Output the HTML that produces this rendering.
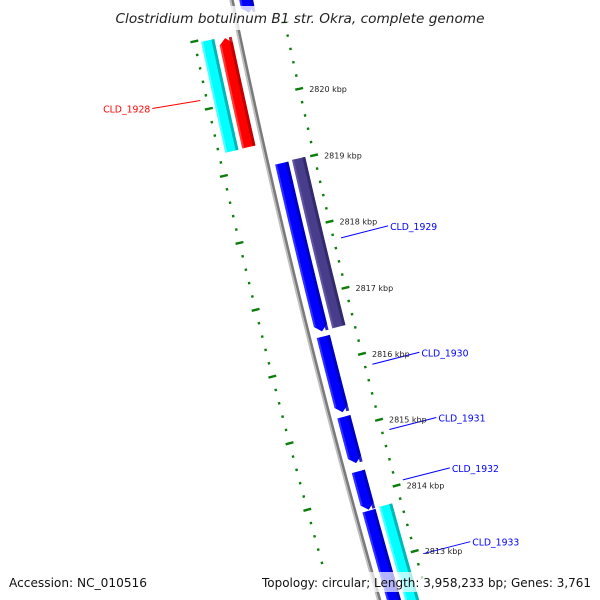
<!DOCTYPE html>
<html><head><meta charset="utf-8">
<style>
html,body{margin:0;padding:0;background:#fff;width:600px;height:600px;overflow:hidden;}
svg{display:block;}
</style></head>
<body>
<svg id="map" width="600" height="600" viewBox="0 0 600 600" xmlns="http://www.w3.org/2000/svg">
  <rect x="0" y="0" width="600" height="600" fill="#fff"/>
  <g id="ticks"></g>
  <g id="backbone"></g>
  <g id="genes"></g>
  <g id="labels"></g>
  <g id="ticklabels"></g>
  <rect x="112" y="6" width="377" height="24" fill="#fff" fill-opacity="0.8"/>
  <text x="300" y="23" text-anchor="middle" font-family="DejaVu Sans, sans-serif" font-style="italic" font-size="13" fill="#222" textLength="369" lengthAdjust="spacingAndGlyphs">Clostridium botulinum B1 str. Okra, complete genome</text>
  <rect x="5" y="572" width="590" height="20" fill="#fff" fill-opacity="0.7"/>
  <text x="9" y="587" font-family="DejaVu Sans, sans-serif" font-size="12.5" fill="#111" textLength="138" lengthAdjust="spacingAndGlyphs">Accession: NC_010516</text>
  <text x="591" y="587" text-anchor="end" font-family="DejaVu Sans, sans-serif" font-size="12.5" fill="#111" textLength="329" lengthAdjust="spacingAndGlyphs">Topology: circular; Length: 3,958,233 bp; Genes: 3,761</text>
</svg>
<script>
// ---- data ----
const geneNames  = ["", "CLD_1928", "", "CLD_1929", "", "CLD_1930", "CLD_1931", "CLD_1932", "CLD_1933", ""];
const geneStart  = [2821.244, 2819.33, 2819.323, 2816.463, 2816.469, 2815.242, 2814.471, 2813.765, 2812.11, 2812.0];
const geneEnd    = [2822.2,   2820.955, 2820.974, 2818.994, 2819.006, 2816.385, 2815.173, 2814.347, 2813.75, 2813.765];
const geneStrand = [-1, 1, 1, -1, -1, -1, -1, -1, -1, -1];
const geneTrack  = [1, 1, 2, 1, 2, 1, 1, 1, 1, 2];
const geneKind   = ["cds","cds","other","cds","other2","cds","cds","cds","cds","other"];
const ringMin = [2812.6, 2813.2];
const ringMax = [2821.0, 2821.0];

// ---- geometry (fitted circle) ----
const CX = 8457, CY = -1704, R0 = 8400;
const PHI0 = 167.605, KB0 = 2820, DEG_PER_KBP = 0.467;
function phi(k){ return (PHI0 - (KB0 - k) * DEG_PER_KBP) * Math.PI / 180; }
function P(k, off){ const r = R0 + off, a = phi(k); return [CX + r*Math.cos(a), CY + r*Math.sin(a)]; }
const NS = "http://www.w3.org/2000/svg";
function el(tag, attrs, parent){ const e = document.createElementNS(NS, tag); for (const k in attrs) e.setAttribute(k, attrs[k]); parent.appendChild(e); return e; }
function pt(p){ return p[0].toFixed(2)+","+p[1].toFixed(2); }

// backbone
const bb = document.getElementById("backbone");
function arcPath(off, k1, k2){ let d=""; for(let i=0;i<=60;i++){ const k=k1+(k2-k1)*i/60; d+=(i?"L":"M")+pt(P(k,off)); } return d; }
const bbDark = el("path", {d: arcPath(-0.8, 2811.5, 2822.5), stroke:"#7a7a7a", "stroke-width":"2.6", fill:"none"}, bb);


const bbLight = el("path", {d: arcPath(1.4, 2811.5, 2822.5), stroke:"#bdbdbd", "stroke-width":"1.6", fill:"none"}, bb);



// ticks
const tg = document.getElementById("ticks"), tl = document.getElementById("ticklabels");
const rings = [-47.5, 45];
for (let ri=0; ri<rings.length; ri++){
  const ro = rings[ri];
  const nT = Math.round((ringMax[ri] - ringMin[ri]) / 0.2);
  for (let i=0;i<=nT;i++){
    const k = ringMin[ri] + i*0.2;
    const major = Math.abs(k - Math.round(k)) < 1e-6;
    const h = major ? 4 : 1.2;
    const a = P(k, ro-h), b = P(k, ro+h);
    const t = el("line", {x1:a[0],y1:a[1],x2:b[0],y2:b[1],stroke:"#0a7d0a","stroke-width":"2.4"}, tg);
    
    
    if (major && ro < 0 && k < 2820.5){
      const c = P(k, ro);
      const lab = el("text", {x:(c[0]+10).toFixed(1), y:(c[1]+3).toFixed(1), "font-family":"DejaVu Sans, sans-serif","font-size":"8",fill:"#222"}, tl);
      lab.textContent = Math.round(k) + " kbp";
      
      
    }
  }
}

// genes
const gg = document.getElementById("genes"), lg = document.getElementById("labels");
const trackBand = {1:[7.5,21], 2:[25,38.5]};
const colors = {cds:["#0000ff","#0000b4","#5050ff"], other:["#00ffff","#00aaaa","#80ffff"], other2:["#483d8b","#2f2766","#6e64b0"], red:["#ff0000","#b80000","#ff6060"]};
function genePoly(s, e, o1, o2, arrowDir){
  const tip = 0.09, N = 30;
  let a = s, b = e;
  if (arrowDir === 1) b = e - tip;
  if (arrowDir === -1) a = s + tip;
  const pts = [];
  for (let i=0;i<=N;i++) pts.push(P(a+(b-a)*i/N, o1));
  if (arrowDir === 1) pts.push(P(e, (o1+o2)/2));
  for (let i=N;i>=0;i--) pts.push(P(a+(b-a)*i/N, o2));
  if (arrowDir === -1) pts.push(P(s, (o1+o2)/2));
  return pts.map(pt).join(" ");
}
for (let g=0; g<geneStart.length; g++){
  const band = trackBand[geneTrack[g]];
  const sign = geneStrand[g] === 1 ? 1 : -1;
  const o1 = sign*band[0], o2 = sign*band[1];
  const lo = Math.min(o1,o2), hi = Math.max(o1,o2);
  let kind = geneKind[g];
  let pal = colors[kind];
  if (geneStrand[g] === 1 && kind === "cds") pal = colors.red;
  const arrow = (kind === "cds") ? geneStrand[g] : 0;
  const grp = el("g", {}, gg);
  
  
  el("polygon", {points: genePoly(geneStart[g], geneEnd[g], lo, hi, arrow), fill: pal[0]}, grp);
  const w = hi - lo;
  el("polygon", {points: genePoly(geneStart[g], geneEnd[g], lo, lo + w*0.22, 0), fill: pal[1], "fill-opacity":"0.85"}, grp);
  el("polygon", {points: genePoly(geneStart[g] + (arrow===-1?0.09:0), geneEnd[g] - (arrow===1?0.09:0), hi - w*0.15, hi, 0), fill: pal[2], "fill-opacity":"0.6"}, grp);
  if (geneNames[g]){
    const mid = (geneStart[g] + geneEnd[g]) / 2;
    const isF = geneStrand[g] === 1;
    const col = isF ? "#ff0000" : "#0000ff";
    const a = P(mid, isF ? 51.6 : -55);
    const b = isF ? [a[0]-48, a[1]+8] : [a[0]+47, a[1]-12];
    const ln = el("line", {x1:a[0],y1:a[1],x2:b[0],y2:b[1],stroke:col,"stroke-width":"1"}, lg);
    
    
    const tx = el("text", {x: isF ? b[0]-2 : b[0]+2, y: b[1]+4, "text-anchor": isF ? "end" : "start", "font-family":"DejaVu Sans, sans-serif","font-size":"9.3",fill:col}, lg);
    tx.textContent = geneNames[g];
    
    
  }
}
</script>
</body></html>
